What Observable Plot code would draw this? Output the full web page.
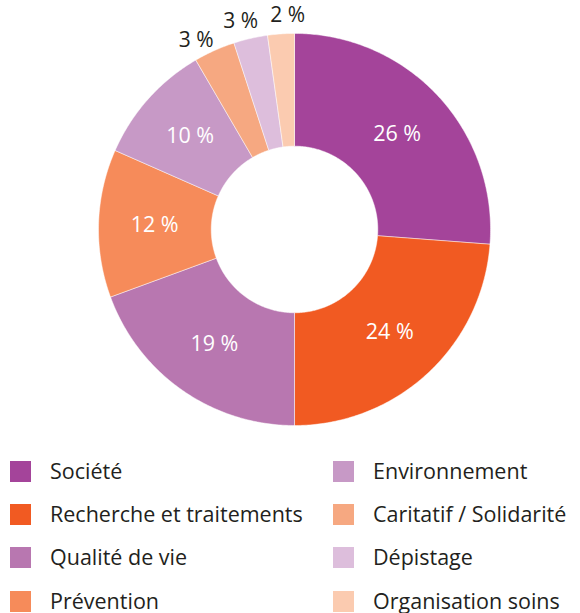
<!DOCTYPE html>
<html>
<head>
<meta charset="utf-8">
<script src="https://cdn.jsdelivr.net/npm/d3@7"></script>
<script src="https://cdn.jsdelivr.net/npm/@observablehq/plot@0.6"></script>
<style>
  html, body { margin: 0; padding: 0; background: #fff; }
  body { width: 580px; height: 613px; position: relative; overflow: hidden; font-family: "Open Sans", sans-serif; }
  #chart { position: absolute; left: 0; top: 0; }
  #legend { position: absolute; left: 10px; top: 461px; display: grid; grid-template-columns: 323px 247px; grid-auto-rows: 43.2px; }
  .item { display: flex; align-items: flex-start; height: 21px; }
  .sw { width: 21px; height: 21px; flex: none; }
  .lab { margin-left: 19px; font-size: 21.5px; color: #231F20; line-height: 20px; white-space: nowrap; }
</style>
</head>
<body>
<div id="chart"></div>
<div id="legend"></div>
<script>
// Data (clockwise from 12 o'clock)
const categories = ["Société", "Recherche et traitements", "Qualité de vie", "Prévention", "Environnement", "Caritatif / Solidarité", "Dépistage", "Organisation soins"];
const shares = [26.2, 23.8, 19.4, 12.2, 10.0, 3.4, 2.8, 2.2];
const labels = ["26 %", "24 %", "19 %", "12 %", "10 %", "3 %", "3 %", "2 %"];
const colors = ["#A4449A", "#F15A22", "#B877B0", "#F68B5A", "#C799C6", "#F6A881", "#DDBEDC", "#FBCBB0"];
// Legend order (two columns)
const legendOrder = ["Société", "Environnement", "Recherche et traitements", "Caritatif / Solidarité", "Qualité de vie", "Dépistage", "Prévention", "Organisation soins"];

const W = 580, H = 445;
const outerR = 1, innerR = 0.425, labelR = 0.714, outsideR = 1.09;
// style: pixel nudges for the small outside labels (to keep them apart)
const outsideNudge = {"Caritatif / Solidarité": [-11, 6], "Dépistage": [-6, 0], "Organisation soins": [8, -1]};

const data = categories.map((c, i) => ({category: c, share: shares[i], label: labels[i], color: colors[i], outside: shares[i] < 5}));
const arcs = d3.pie().sort(null).value(d => d.share)(data);

function slicePoints(a) {
  const pts = [];
  const n = Math.max(4, Math.ceil((a.endAngle - a.startAngle) / 0.01));
  for (let k = 0; k <= n; k++) {
    const t = a.startAngle + (a.endAngle - a.startAngle) * k / n;
    pts.push({x: outerR * Math.sin(t), y: outerR * Math.cos(t)});
  }
  for (let k = n; k >= 0; k--) {
    const t = a.startAngle + (a.endAngle - a.startAngle) * k / n;
    pts.push({x: innerR * Math.sin(t), y: innerR * Math.cos(t)});
  }
  pts.push(pts[0]);
  return pts;
}

const labelData = arcs.map(a => {
  const m = (a.startAngle + a.endAngle) / 2;
  const r = a.data.outside ? outsideR : labelR;
  return {x: r * Math.sin(m), y: r * Math.cos(m), label: a.data.label, outside: a.data.outside, category: a.data.category};
});

const chart = Plot.plot({
  width: W, height: H,
  margin: 0,
  x: {domain: [-1.5, 1.459], axis: null},
  y: {domain: [-1.102, 1.168], axis: null},
  style: {fontFamily: "'Open Sans', sans-serif", background: "transparent"},
  marks: [
    ...arcs.map(a => Plot.line(slicePoints(a), {x: "x", y: "y", fill: a.data.color, stroke: "#ffffff", strokeWidth: 0.6, strokeOpacity: 0.8})),
    Plot.text(labelData.filter(d => !d.outside), {x: "x", y: "y", text: "label", fill: "white", fontSize: 21.5}),
    ...labelData.filter(d => d.outside).map(d => {
      const [dx, dy] = outsideNudge[d.category] || [0, 0];
      return Plot.text([d], {x: "x", y: "y", text: "label", fill: "#231F20", fontSize: 21, dx, dy});
    })
  ]
});
document.getElementById("chart").appendChild(chart);

const legend = document.getElementById("legend");
legendOrder.forEach(name => {
  const i = categories.indexOf(name);
  const item = document.createElement("div");
  item.className = "item";
  item.innerHTML = `<div class="sw" style="background:${colors[i]}"></div><div class="lab">${name}</div>`;
  legend.appendChild(item);
});
</script>
</body>
</html>
